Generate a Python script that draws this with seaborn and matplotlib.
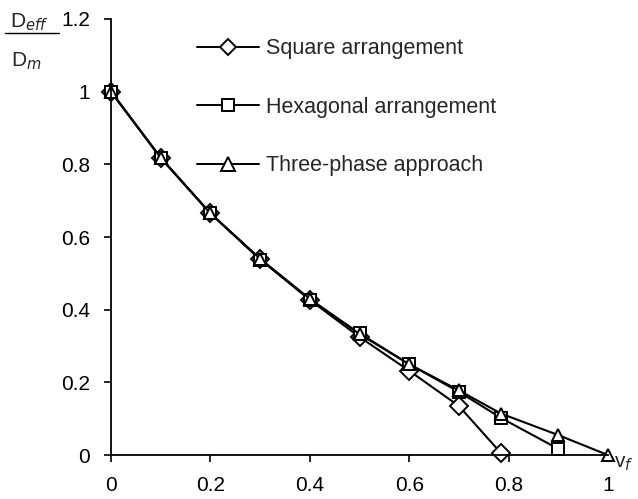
import pandas as pd
import matplotlib
matplotlib.use("Agg")
import matplotlib.pyplot as plt
import seaborn as sns

# fibre volume fraction and normalised effective diffusivity
vf_square = [0.0, 0.1, 0.2, 0.3, 0.4, 0.5, 0.6, 0.7, 0.785]
d_square = [1.0, 0.818, 0.665, 0.540, 0.427, 0.325, 0.232, 0.135, 0.005]

vf_hex = [0.0, 0.1, 0.2, 0.3, 0.4, 0.5, 0.6, 0.7, 0.785, 0.9]
d_hex = [1.0, 0.818, 0.665, 0.538, 0.428, 0.335, 0.250, 0.174, 0.102, 0.017]

vf_three = [0.0, 0.1, 0.2, 0.3, 0.4, 0.5, 0.6, 0.7, 0.785, 0.9, 1.0]
d_three = [1.0, 0.818, 0.665, 0.540, 0.430, 0.333, 0.250, 0.178, 0.114, 0.055, 0.0]

labels = ["Square arrangement", "Hexagonal arrangement", "Three-phase approach"]

df = pd.concat([
    pd.DataFrame({"vf": vf_square, "D": d_square, "model": labels[0]}),
    pd.DataFrame({"vf": vf_hex, "D": d_hex, "model": labels[1]}),
    pd.DataFrame({"vf": vf_three, "D": d_three, "model": labels[2]}),
])

sns.set_style("ticks")
plt.rcParams["font.family"] = ["Liberation Sans", "DejaVu Sans"]
plt.rcParams["font.size"] = 15
FS = 15

fig = plt.figure(figsize=(6.38, 4.99), dpi=100)
ax = fig.add_axes([0.174, 0.088, 0.779, 0.874])

sns.lineplot(data=df, x="vf", y="D", hue="model", style="model",
             hue_order=labels, style_order=labels,
             palette=["black"] * 3, markers=["D", "s", "^"], dashes=False,
             markersize=9, markerfacecolor="white", markeredgecolor="black",
             markeredgewidth=1.4, linewidth=1.5, ax=ax, legend=False)
for line in ax.lines:
    line.set_clip_on(False)

# legend drawn by hand from proxy handles so markers stay open
handles = []
for lab, m, ms in zip(labels, ["D", "s", "^"], [8, 8.5, 10]):
    h, = ax.plot([], [], color="black", lw=1.4, marker=m, ms=ms,
                 mfc="white", mec="black", mew=1.4, label=lab)
    handles.append(h)
fig.legend(handles=handles, loc="upper left", bbox_to_anchor=(0.278, 0.962),
           frameon=False, handlelength=2.9, handletextpad=0.3,
           labelspacing=1.74, fontsize=15.5)

ax.set_xlim(0, 1)
ax.set_ylim(0, 1.2)
ax.set_xticks([0, 0.2, 0.4, 0.6, 0.8, 1])
ax.set_xticklabels(["0", "0.2", "0.4", "0.6", "0.8", "1"])
ax.set_yticks([0, 0.2, 0.4, 0.6, 0.8, 1, 1.2])
ax.set_yticklabels(["0", "0.2", "0.4", "0.6", "0.8", "1", "1.2"])
ax.tick_params(direction="out", length=5, width=1.2, colors="black",
               labelsize=FS, pad=10)
for s in ["top", "right"]:
    ax.spines[s].set_visible(False)
for s in ["left", "bottom"]:
    ax.spines[s].set_linewidth(1.3)
    ax.spines[s].set_color("black")
ax.set_xlabel("")
ax.set_ylabel("")

# axis labels placed like the original figure
fig.text(0.016, 0.955, r"D$_{\mathit{eff}}$", fontsize=FS, va="center")
fig.add_artist(plt.Line2D([0.008, 0.092], [0.933, 0.933], color="black", lw=1))
fig.text(0.018, 0.878, r"D$_{\mathit{m}}$", fontsize=FS, va="center")
fig.text(0.963, 0.072, r"v$_{\mathit{f}}$", fontsize=FS, va="center")

plt.savefig("out.png", dpi=100)
plt.close()
